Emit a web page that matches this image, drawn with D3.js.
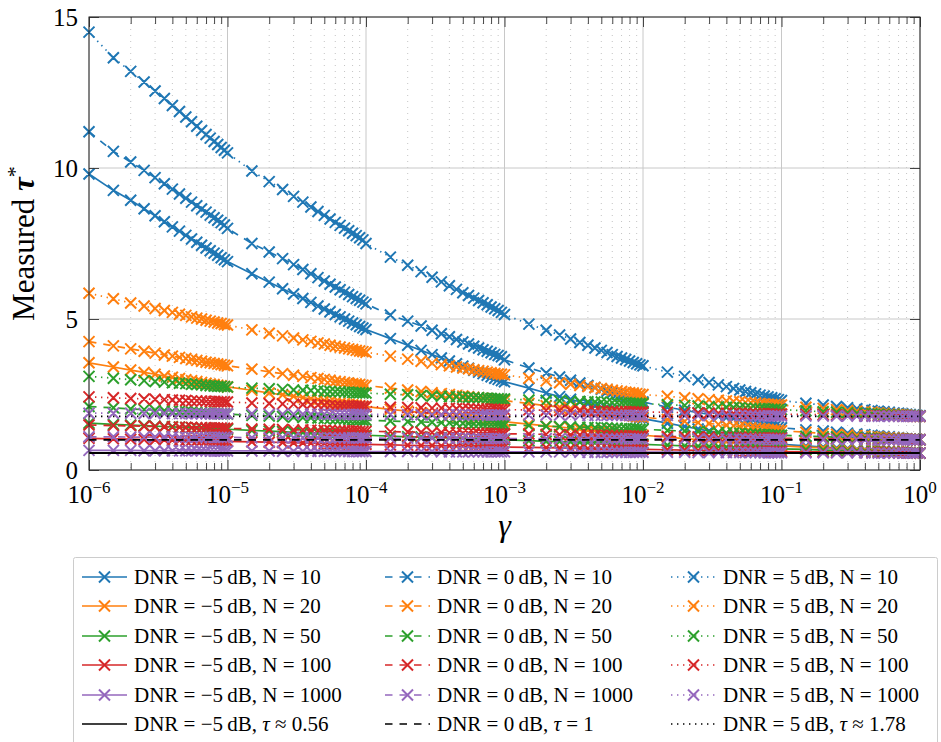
<!DOCTYPE html>
<html>
<head>
<meta charset="utf-8">
<script src="https://cdn.jsdelivr.net/npm/d3@7"></script>
<style>
  body { margin: 0; background: #fff; }
  svg text { font-family: "Liberation Serif", "Times New Roman", Tinos, Times, "DejaVu Serif", "Noto Serif", serif; fill: #000; }
</style>
</head>
<body>
<div id="chart"></div>
<script>
// gamma sample grid: mantissas inside each decade, then 10^0
const mantissas = [1, 1.5, 2, 2.5, 3, 3.5, 4, 4.5, 5, 5.5, 6, 6.5, 7, 7.5, 8, 8.5, 9, 9.5];
const exponents = [-6, -5, -4, -3, -2, -1];
const gamma = exponents.flatMap(e => mantissas.map(m => m * Math.pow(10, e))).concat([1]);

const dnrLevels = [-5, 0, 5];
const nLevels = [10, 20, 50, 100, 1000];
const tauRef = [0.5623, 1, 1.7783];
const tauText = ["≈ 0.56", "= 1", "≈ 1.78"];

// measured tau*, one row per decade
const n10_m5 = [
  9.8, 9.26, 8.93, 8.65, 8.42, 8.22, 8.05, 7.91, 7.77, 7.65, 7.54, 7.44, 7.35, 7.26, 7.18, 7.11, 7.03, 6.96,
  6.9, 6.5, 6.22, 6.0, 5.83, 5.68, 5.55, 5.43, 5.33, 5.24, 5.15, 5.07, 5.0, 4.93, 4.87, 4.81, 4.75, 4.7,
  4.65, 4.35, 4.13, 3.96, 3.82, 3.71, 3.61, 3.52, 3.44, 3.37, 3.3, 3.24, 3.19, 3.14, 3.09, 3.04, 3.0, 2.96,
  2.92, 2.71, 2.55, 2.43, 2.34, 2.26, 2.19, 2.12, 2.07, 2.02, 1.97, 1.93, 1.89, 1.85, 1.82, 1.79, 1.76, 1.73,
  1.7, 1.55, 1.44, 1.36, 1.29, 1.24, 1.19, 1.14, 1.11, 1.07, 1.04, 1.01, 0.98, 0.96, 0.93, 0.91, 0.89, 0.87,
  0.85, 0.8, 0.76, 0.73, 0.71, 0.69, 0.68, 0.66, 0.65, 0.64, 0.62, 0.61, 0.6, 0.6, 0.59, 0.58, 0.57, 0.57,
  0.56];
const n20_m5 = [
  3.55, 3.41, 3.31, 3.23, 3.17, 3.11, 3.07, 3.03, 2.99, 2.96, 2.93, 2.9, 2.87, 2.85, 2.83, 2.81, 2.79, 2.77,
  2.75, 2.64, 2.55, 2.49, 2.44, 2.4, 2.36, 2.33, 2.3, 2.27, 2.24, 2.22, 2.2, 2.18, 2.16, 2.15, 2.13, 2.11,
  2.1, 2.01, 1.95, 1.9, 1.86, 1.83, 1.8, 1.77, 1.75, 1.73, 1.71, 1.69, 1.68, 1.66, 1.65, 1.64, 1.62, 1.61,
  1.6, 1.52, 1.46, 1.42, 1.39, 1.36, 1.33, 1.31, 1.29, 1.27, 1.25, 1.23, 1.22, 1.21, 1.19, 1.18, 1.17, 1.16,
  1.15, 1.09, 1.04, 1.01, 0.98, 0.96, 0.94, 0.92, 0.91, 0.89, 0.88, 0.87, 0.85, 0.84, 0.83, 0.82, 0.82, 0.81,
  0.8, 0.76, 0.73, 0.7, 0.69, 0.67, 0.66, 0.64, 0.63, 0.62, 0.61, 0.6, 0.6, 0.59, 0.58, 0.58, 0.57, 0.57,
  0.56];
const n50_m5 = [
  1.55, 1.51, 1.49, 1.47, 1.45, 1.44, 1.43, 1.42, 1.41, 1.4, 1.39, 1.39, 1.38, 1.38, 1.37, 1.36, 1.36, 1.35,
  1.35, 1.31, 1.29, 1.27, 1.25, 1.24, 1.23, 1.22, 1.21, 1.2, 1.19, 1.19, 1.18, 1.18, 1.17, 1.16, 1.16, 1.15,
  1.15, 1.12, 1.1, 1.09, 1.08, 1.07, 1.06, 1.05, 1.05, 1.04, 1.03, 1.03, 1.02, 1.02, 1.01, 1.01, 1.01, 1.0,
  1.0, 0.97, 0.95, 0.94, 0.93, 0.92, 0.91, 0.9, 0.9, 0.89, 0.88, 0.88, 0.87, 0.87, 0.86, 0.86, 0.86, 0.85,
  0.85, 0.82, 0.8, 0.79, 0.78, 0.77, 0.76, 0.75, 0.75, 0.74, 0.73, 0.73, 0.72, 0.72, 0.71, 0.71, 0.71, 0.7,
  0.7, 0.68, 0.66, 0.65, 0.64, 0.63, 0.62, 0.61, 0.6, 0.6, 0.59, 0.59, 0.58, 0.58, 0.57, 0.57, 0.57, 0.56,
  0.56];
const n100_m5 = [
  1.05, 1.03, 1.02, 1.01, 1.0, 1.0, 0.99, 0.98, 0.98, 0.98, 0.97, 0.97, 0.97, 0.96, 0.96, 0.96, 0.95, 0.95,
  0.95, 0.93, 0.92, 0.91, 0.9, 0.9, 0.89, 0.88, 0.88, 0.88, 0.87, 0.87, 0.87, 0.86, 0.86, 0.86, 0.85, 0.85,
  0.85, 0.83, 0.82, 0.81, 0.81, 0.8, 0.8, 0.79, 0.79, 0.78, 0.78, 0.78, 0.77, 0.77, 0.77, 0.77, 0.76, 0.76,
  0.76, 0.75, 0.74, 0.73, 0.72, 0.72, 0.71, 0.71, 0.7, 0.7, 0.7, 0.69, 0.69, 0.69, 0.69, 0.69, 0.68, 0.68,
  0.68, 0.67, 0.66, 0.65, 0.65, 0.64, 0.64, 0.63, 0.63, 0.63, 0.63, 0.62, 0.62, 0.62, 0.62, 0.62, 0.61, 0.61,
  0.61, 0.6, 0.6, 0.59, 0.59, 0.59, 0.58, 0.58, 0.58, 0.58, 0.57, 0.57, 0.57, 0.57, 0.57, 0.56, 0.56, 0.56,
  0.56];
const n1000_m5 = [
  0.65, 0.65, 0.65, 0.64, 0.64, 0.64, 0.64, 0.64, 0.64, 0.64, 0.64, 0.64, 0.63, 0.63, 0.63, 0.63, 0.63, 0.63,
  0.63, 0.63, 0.63, 0.62, 0.62, 0.62, 0.62, 0.62, 0.62, 0.62, 0.62, 0.62, 0.61, 0.61, 0.61, 0.61, 0.61, 0.61,
  0.61, 0.61, 0.61, 0.61, 0.61, 0.6, 0.6, 0.6, 0.6, 0.6, 0.6, 0.6, 0.6, 0.6, 0.6, 0.6, 0.6, 0.6,
  0.6, 0.6, 0.6, 0.6, 0.6, 0.59, 0.59, 0.59, 0.59, 0.59, 0.59, 0.59, 0.59, 0.59, 0.59, 0.59, 0.59, 0.59,
  0.59, 0.59, 0.59, 0.58, 0.58, 0.58, 0.58, 0.58, 0.58, 0.58, 0.58, 0.58, 0.57, 0.57, 0.57, 0.57, 0.57, 0.57,
  0.57, 0.57, 0.57, 0.57, 0.57, 0.57, 0.57, 0.56, 0.56, 0.56, 0.56, 0.56, 0.56, 0.56, 0.56, 0.56, 0.56, 0.56,
  0.56];

const n10_0 = [
  11.2, 10.55, 10.2, 9.92, 9.68, 9.48, 9.3, 9.14, 9.0, 8.87, 8.75, 8.64, 8.54, 8.44, 8.35, 8.27, 8.19, 8.11,
  8.0, 7.5, 7.22, 7.0, 6.8, 6.64, 6.5, 6.37, 6.26, 6.15, 6.06, 5.97, 5.89, 5.81, 5.74, 5.68, 5.62, 5.56,
  5.5, 5.13, 4.93, 4.77, 4.63, 4.51, 4.41, 4.32, 4.24, 4.17, 4.1, 4.04, 3.98, 3.93, 3.88, 3.83, 3.79, 3.75,
  3.65, 3.38, 3.21, 3.08, 2.97, 2.88, 2.8, 2.73, 2.67, 2.61, 2.56, 2.51, 2.47, 2.43, 2.39, 2.35, 2.32, 2.28,
  2.25, 2.08, 1.98, 1.9, 1.84, 1.78, 1.74, 1.7, 1.66, 1.62, 1.59, 1.56, 1.53, 1.51, 1.49, 1.47, 1.45, 1.42,
  1.4, 1.33, 1.29, 1.25, 1.22, 1.19, 1.17, 1.15, 1.13, 1.11, 1.1, 1.08, 1.07, 1.05, 1.04, 1.03, 1.02, 1.01,
  1.0];
const n20_0 = [
  4.25, 4.11, 4.01, 3.93, 3.87, 3.81, 3.77, 3.73, 3.69, 3.66, 3.63, 3.6, 3.57, 3.55, 3.53, 3.51, 3.49, 3.47,
  3.45, 3.34, 3.25, 3.19, 3.14, 3.1, 3.06, 3.03, 3.0, 2.97, 2.94, 2.92, 2.9, 2.88, 2.86, 2.85, 2.83, 2.81,
  2.8, 2.71, 2.65, 2.6, 2.56, 2.53, 2.5, 2.47, 2.45, 2.43, 2.41, 2.39, 2.38, 2.36, 2.35, 2.34, 2.32, 2.31,
  2.3, 2.2, 2.13, 2.08, 2.04, 2.0, 1.97, 1.94, 1.92, 1.89, 1.87, 1.85, 1.84, 1.82, 1.8, 1.79, 1.77, 1.76,
  1.75, 1.67, 1.61, 1.57, 1.54, 1.51, 1.48, 1.46, 1.44, 1.42, 1.4, 1.38, 1.37, 1.36, 1.34, 1.33, 1.32, 1.31,
  1.3, 1.25, 1.21, 1.18, 1.16, 1.14, 1.12, 1.1, 1.09, 1.08, 1.07, 1.06, 1.05, 1.04, 1.03, 1.02, 1.01, 1.01,
  1.0];
const n50_0 = [
  2.1, 2.06, 2.02, 2.0, 1.98, 1.96, 1.95, 1.94, 1.93, 1.92, 1.91, 1.9, 1.89, 1.88, 1.87, 1.87, 1.86, 1.86,
  1.85, 1.81, 1.79, 1.77, 1.75, 1.74, 1.73, 1.72, 1.71, 1.7, 1.69, 1.69, 1.68, 1.68, 1.67, 1.66, 1.66, 1.65,
  1.65, 1.62, 1.6, 1.59, 1.58, 1.57, 1.56, 1.55, 1.55, 1.54, 1.53, 1.53, 1.52, 1.52, 1.51, 1.51, 1.51, 1.5,
  1.5, 1.47, 1.45, 1.44, 1.43, 1.42, 1.41, 1.4, 1.4, 1.39, 1.38, 1.38, 1.37, 1.37, 1.36, 1.36, 1.36, 1.35,
  1.35, 1.31, 1.29, 1.27, 1.25, 1.24, 1.23, 1.22, 1.21, 1.2, 1.19, 1.19, 1.18, 1.18, 1.17, 1.16, 1.16, 1.15,
  1.15, 1.12, 1.1, 1.09, 1.08, 1.07, 1.06, 1.05, 1.05, 1.04, 1.03, 1.03, 1.02, 1.02, 1.01, 1.01, 1.01, 1.0,
  1.0];
const n100_0 = [
  1.49, 1.47, 1.46, 1.45, 1.44, 1.43, 1.42, 1.42, 1.41, 1.41, 1.4, 1.4, 1.4, 1.39, 1.39, 1.39, 1.39, 1.38,
  1.38, 1.36, 1.35, 1.34, 1.33, 1.33, 1.32, 1.31, 1.31, 1.31, 1.3, 1.3, 1.3, 1.29, 1.29, 1.29, 1.28, 1.28,
  1.28, 1.27, 1.26, 1.25, 1.24, 1.24, 1.23, 1.23, 1.22, 1.22, 1.22, 1.21, 1.21, 1.21, 1.21, 1.21, 1.2, 1.2,
  1.2, 1.19, 1.18, 1.17, 1.16, 1.16, 1.15, 1.15, 1.14, 1.14, 1.14, 1.13, 1.13, 1.13, 1.13, 1.13, 1.12, 1.12,
  1.12, 1.11, 1.1, 1.09, 1.09, 1.08, 1.08, 1.07, 1.07, 1.07, 1.07, 1.06, 1.06, 1.06, 1.06, 1.06, 1.05, 1.05,
  1.05, 1.04, 1.04, 1.03, 1.03, 1.03, 1.02, 1.02, 1.02, 1.02, 1.01, 1.01, 1.01, 1.01, 1.01, 1.0, 1.0, 1.0,
  1.0];
const n1000_0 = [
  1.1, 1.1, 1.09, 1.09, 1.09, 1.09, 1.09, 1.08, 1.08, 1.08, 1.08, 1.08, 1.08, 1.08, 1.08, 1.08, 1.08, 1.08,
  1.08, 1.07, 1.07, 1.07, 1.07, 1.07, 1.07, 1.06, 1.06, 1.06, 1.06, 1.06, 1.06, 1.06, 1.06, 1.06, 1.06, 1.06,
  1.06, 1.05, 1.05, 1.05, 1.05, 1.05, 1.05, 1.05, 1.05, 1.04, 1.04, 1.04, 1.04, 1.04, 1.04, 1.04, 1.04, 1.04,
  1.04, 1.04, 1.04, 1.03, 1.03, 1.03, 1.03, 1.03, 1.03, 1.03, 1.03, 1.03, 1.03, 1.03, 1.03, 1.03, 1.03, 1.03,
  1.03, 1.03, 1.02, 1.02, 1.02, 1.02, 1.02, 1.02, 1.02, 1.02, 1.02, 1.02, 1.01, 1.01, 1.01, 1.01, 1.01, 1.01,
  1.01, 1.01, 1.01, 1.01, 1.01, 1.01, 1.0, 1.0, 1.0, 1.0, 1.0, 1.0, 1.0, 1.0, 1.0, 1.0, 1.0, 1.0,
  1.0];

const n10_p5 = [
  14.5, 13.65, 13.2, 12.85, 12.55, 12.3, 12.07, 11.87, 11.69, 11.53, 11.38, 11.24, 11.11, 10.99, 10.88, 10.78, 10.68, 10.59,
  10.5, 9.9, 9.55, 9.29, 9.06, 8.87, 8.71, 8.56, 8.43, 8.31, 8.2, 8.1, 8.01, 7.92, 7.84, 7.76, 7.69, 7.62,
  7.5, 7.05, 6.78, 6.57, 6.38, 6.23, 6.1, 5.98, 5.87, 5.78, 5.69, 5.61, 5.54, 5.47, 5.4, 5.34, 5.28, 5.22,
  5.15, 4.83, 4.63, 4.47, 4.34, 4.22, 4.13, 4.04, 3.96, 3.89, 3.82, 3.76, 3.71, 3.66, 3.61, 3.56, 3.52, 3.48,
  3.45, 3.24, 3.1, 2.99, 2.9, 2.82, 2.76, 2.7, 2.65, 2.6, 2.56, 2.52, 2.48, 2.45, 2.42, 2.39, 2.36, 2.33,
  2.3, 2.21, 2.15, 2.1, 2.06, 2.03, 2.0, 1.97, 1.95, 1.93, 1.91, 1.89, 1.88, 1.86, 1.85, 1.84, 1.82, 1.81,
  1.8];
const n20_p5 = [
  5.85, 5.67, 5.53, 5.43, 5.35, 5.28, 5.22, 5.16, 5.12, 5.07, 5.03, 5.0, 4.96, 4.93, 4.9, 4.87, 4.85, 4.82,
  4.8, 4.64, 4.53, 4.44, 4.37, 4.31, 4.26, 4.21, 4.17, 4.13, 4.1, 4.07, 4.04, 4.01, 3.99, 3.96, 3.94, 3.92,
  3.9, 3.77, 3.67, 3.6, 3.54, 3.49, 3.45, 3.41, 3.38, 3.35, 3.32, 3.29, 3.27, 3.24, 3.22, 3.2, 3.18, 3.17,
  3.15, 3.04, 2.95, 2.89, 2.84, 2.8, 2.76, 2.73, 2.7, 2.67, 2.64, 2.62, 2.6, 2.58, 2.56, 2.55, 2.53, 2.51,
  2.5, 2.44, 2.39, 2.36, 2.33, 2.31, 2.29, 2.27, 2.26, 2.24, 2.23, 2.22, 2.2, 2.19, 2.18, 2.17, 2.17, 2.16,
  2.15, 2.08, 2.04, 2.0, 1.97, 1.95, 1.93, 1.91, 1.89, 1.88, 1.86, 1.85, 1.84, 1.83, 1.82, 1.81, 1.8, 1.79,
  1.78];
const n50_p5 = [
  3.1, 3.04, 2.99, 2.96, 2.93, 2.91, 2.89, 2.87, 2.86, 2.84, 2.83, 2.82, 2.8, 2.79, 2.78, 2.77, 2.77, 2.76,
  2.75, 2.71, 2.69, 2.67, 2.65, 2.64, 2.63, 2.62, 2.61, 2.6, 2.59, 2.59, 2.58, 2.58, 2.57, 2.56, 2.56, 2.55,
  2.55, 2.51, 2.49, 2.47, 2.45, 2.44, 2.43, 2.42, 2.41, 2.4, 2.39, 2.39, 2.38, 2.38, 2.37, 2.36, 2.36, 2.35,
  2.35, 2.32, 2.3, 2.29, 2.28, 2.27, 2.26, 2.25, 2.25, 2.24, 2.23, 2.23, 2.22, 2.22, 2.21, 2.21, 2.21, 2.2,
  2.2, 2.16, 2.14, 2.12, 2.1, 2.09, 2.08, 2.07, 2.06, 2.05, 2.04, 2.04, 2.03, 2.03, 2.02, 2.01, 2.01, 2.0,
  2.0, 1.96, 1.93, 1.91, 1.9, 1.88, 1.87, 1.86, 1.85, 1.84, 1.83, 1.82, 1.81, 1.81, 1.8, 1.8, 1.79, 1.79,
  1.78];
const n100_p5 = [
  2.42, 2.39, 2.37, 2.35, 2.34, 2.33, 2.32, 2.31, 2.3, 2.29, 2.29, 2.28, 2.28, 2.27, 2.27, 2.26, 2.26, 2.26,
  2.25, 2.22, 2.2, 2.19, 2.18, 2.17, 2.16, 2.15, 2.15, 2.14, 2.13, 2.13, 2.12, 2.12, 2.11, 2.11, 2.11, 2.1,
  2.1, 2.08, 2.07, 2.06, 2.05, 2.05, 2.04, 2.03, 2.03, 2.03, 2.02, 2.02, 2.02, 2.01, 2.01, 2.01, 2.0, 2.0,
  2.0, 1.99, 1.98, 1.97, 1.96, 1.96, 1.95, 1.95, 1.94, 1.94, 1.94, 1.93, 1.93, 1.93, 1.93, 1.93, 1.92, 1.92,
  1.92, 1.91, 1.9, 1.89, 1.89, 1.88, 1.88, 1.87, 1.87, 1.87, 1.87, 1.86, 1.86, 1.86, 1.86, 1.86, 1.85, 1.85,
  1.85, 1.84, 1.83, 1.82, 1.82, 1.81, 1.81, 1.8, 1.8, 1.8, 1.8, 1.79, 1.79, 1.79, 1.79, 1.79, 1.78, 1.78,
  1.78];
const n1000_p5 = [
  1.88, 1.88, 1.88, 1.87, 1.87, 1.87, 1.87, 1.87, 1.87, 1.86, 1.86, 1.86, 1.86, 1.86, 1.86, 1.86, 1.86, 1.86,
  1.86, 1.86, 1.85, 1.85, 1.85, 1.85, 1.85, 1.85, 1.85, 1.84, 1.84, 1.84, 1.84, 1.84, 1.84, 1.84, 1.84, 1.84,
  1.84, 1.84, 1.83, 1.83, 1.83, 1.83, 1.83, 1.83, 1.83, 1.82, 1.82, 1.82, 1.82, 1.82, 1.82, 1.82, 1.82, 1.82,
  1.82, 1.82, 1.82, 1.82, 1.82, 1.81, 1.81, 1.81, 1.81, 1.81, 1.81, 1.81, 1.81, 1.81, 1.81, 1.81, 1.81, 1.81,
  1.81, 1.81, 1.8, 1.8, 1.8, 1.8, 1.8, 1.8, 1.8, 1.8, 1.8, 1.79, 1.79, 1.79, 1.79, 1.79, 1.79, 1.79,
  1.79, 1.79, 1.79, 1.79, 1.79, 1.79, 1.78, 1.78, 1.78, 1.78, 1.78, 1.78, 1.78, 1.78, 1.78, 1.78, 1.78, 1.78,
  1.78];

const valuesByDnr = [
  [n10_m5, n20_m5, n50_m5, n100_m5, n1000_m5],
  [n10_0, n20_0, n50_0, n100_0, n1000_0],
  [n10_p5, n20_p5, n50_p5, n100_p5, n1000_p5]
];

const colors = ["#1f77b4", "#ff7f0e", "#2ca02c", "#d62728", "#9467bd"];
const dashes = [null, "7.5,7", "1.4,4.6"];

const width = 941, height = 742;
const plot = {left: 89, right: 920, top: 17, bottom: 470};

const x = d3.scaleLog().domain([1e-6, 1]).range([plot.left, plot.right]);
const y = d3.scaleLinear().domain([0, 15]).range([plot.bottom, plot.top]);

const svg = d3.select("#chart").append("svg")
  .attr("width", width)
  .attr("height", height)
  .attr("viewBox", [0, 0, width, height]);

const majorX = exponents.map(e => Math.pow(10, e)).concat([1]);
const minorX = exponents.flatMap(e => d3.range(2, 10).map(m => m * Math.pow(10, e)));
const majorY = [0, 5, 10, 15];

// grid
svg.append("g")
  .selectAll("line")
  .data(minorX)
  .join("line")
  .attr("x1", d => x(d)).attr("x2", d => x(d))
  .attr("y1", plot.top).attr("y2", plot.bottom)
  .attr("stroke", "#b5b5b5")
  .attr("stroke-width", 0.8)
  .attr("stroke-dasharray", "1,5");

svg.append("g")
  .selectAll("line")
  .data(majorX)
  .join("line")
  .attr("x1", d => x(d)).attr("x2", d => x(d))
  .attr("y1", plot.top).attr("y2", plot.bottom)
  .attr("stroke", "#c8c8c8")
  .attr("stroke-width", 1);

svg.append("g")
  .selectAll("line")
  .data(majorY)
  .join("line")
  .attr("x1", plot.left).attr("x2", plot.right)
  .attr("y1", d => y(d)).attr("y2", d => y(d))
  .attr("stroke", "#c8c8c8")
  .attr("stroke-width", 1);

// series
const line = d3.line().x(d => x(d[0])).y(d => y(d[1]));
const cross = (cx, cy, r) => `M${cx - r},${cy - r}L${cx + r},${cy + r}M${cx - r},${cy + r}L${cx + r},${cy - r}`;

const marks = svg.append("g");
dnrLevels.forEach((dnr, di) => {
  valuesByDnr[di].forEach((vals, ni) => {
    const pts = gamma.map((g, i) => [g, vals[i]]).filter(d => d[1] != null);
    const g = marks.append("g");
    g.append("path")
      .attr("d", line(pts))
      .attr("fill", "none")
      .attr("stroke", colors[ni])
      .attr("stroke-width", 1.7)
      .attr("stroke-dasharray", dashes[di]);
    g.append("path")
      .attr("d", pts.map(d => cross(x(d[0]), y(d[1]), 5.5)).join(""))
      .attr("fill", "none")
      .attr("stroke", colors[ni])
      .attr("stroke-width", 2);
  });
  marks.append("path")
    .attr("d", line([[gamma[0], tauRef[di]], [gamma[gamma.length - 1], tauRef[di]]]))
    .attr("fill", "none")
    .attr("stroke", "#000")
    .attr("stroke-width", 1.8)
    .attr("stroke-dasharray", dashes[di]);
});

// axes, ticks pointing inside on all four sides
const tickStyle = g => {
  g.select(".domain").remove();
  g.selectAll(".tick line").attr("stroke", "#333").attr("stroke-width", 0.9);
};
svg.append("g").attr("transform", `translate(0,${plot.bottom})`)
  .call(d3.axisBottom(x).tickValues(minorX).tickSize(-7).tickFormat("")).call(tickStyle);
svg.append("g").attr("transform", `translate(0,${plot.top})`)
  .call(d3.axisTop(x).tickValues(minorX).tickSize(-7).tickFormat("")).call(tickStyle);
svg.append("g").attr("transform", `translate(0,${plot.bottom})`)
  .call(d3.axisBottom(x).tickValues(majorX).tickSize(-10).tickFormat("")).call(tickStyle);
svg.append("g").attr("transform", `translate(0,${plot.top})`)
  .call(d3.axisTop(x).tickValues(majorX).tickSize(-10).tickFormat("")).call(tickStyle);
svg.append("g").attr("transform", `translate(${plot.left},0)`)
  .call(d3.axisLeft(y).tickValues(majorY).tickSize(-10).tickFormat("")).call(tickStyle);
svg.append("g").attr("transform", `translate(${plot.right},0)`)
  .call(d3.axisRight(y).tickValues(majorY).tickSize(-10).tickFormat("")).call(tickStyle);

svg.append("rect")
  .attr("x", plot.left).attr("y", plot.top)
  .attr("width", plot.right - plot.left).attr("height", plot.bottom - plot.top)
  .attr("fill", "none").attr("stroke", "#222").attr("stroke-width", 1);

// tick labels
const xLab = svg.append("g").selectAll("text")
  .data(majorX)
  .join("text")
  .attr("x", d => x(d))
  .attr("y", 503)
  .attr("text-anchor", "middle")
  .attr("font-size", 25);
xLab.append("tspan").text("10");
xLab.append("tspan")
  .attr("dy", -10)
  .attr("font-size", 17)
  .text(d => { const e = Math.round(Math.log10(d)); return e < 0 ? "\u2212" + (-e) : String(e); });

svg.append("g").selectAll("text")
  .data(majorY)
  .join("text")
  .attr("x", 78)
  .attr("y", d => y(d))
  .attr("dy", "0.34em")
  .attr("text-anchor", "end")
  .attr("font-size", 25)
  .text(d => d);

// axis titles
svg.append("text")
  .attr("x", (plot.left + plot.right) / 2)
  .attr("y", 536)
  .attr("text-anchor", "middle")
  .attr("font-size", 32)
  .attr("font-style", "italic")
  .text("γ");

const yTitle = svg.append("text")
  .attr("transform", `translate(34,${(plot.top + plot.bottom) / 2}) rotate(-90)`)
  .attr("text-anchor", "middle")
  .attr("font-size", 31);
yTitle.append("tspan").text("Measured ");
yTitle.append("tspan").attr("font-style", "italic").attr("font-weight", "bold").text("τ");
yTitle.append("tspan").attr("dy", -12).attr("font-size", 22).text("*");

// legend
const legend = svg.append("g");
legend.append("rect")
  .attr("x", 73.5).attr("y", 557.5)
  .attr("width", 864).attr("height", 190)
  .attr("rx", 2)
  .attr("fill", "#fff")
  .attr("stroke", "#cccccc")
  .attr("stroke-width", 1);

const colX = [82, 385, 671];
const rowY = [577, 606, 636, 665, 695, 724];
const handleLen = 45;

dnrLevels.forEach((dnr, di) => {
  const dnrText = "DNR = " + (dnr < 0 ? "\u2212" + (-dnr) : dnr) + "\u2009dB, ";
  const rows = nLevels.map((n, ni) => ({color: colors[ni], marker: true, n}))
    .concat([{color: "#000", marker: false}]);
  rows.forEach((r, ri) => {
    const x0 = colX[di], cy = rowY[ri];
    legend.append("line")
      .attr("x1", x0).attr("x2", x0 + handleLen)
      .attr("y1", cy).attr("y2", cy)
      .attr("stroke", r.color)
      .attr("stroke-width", 1.7)
      .attr("stroke-dasharray", dashes[di]);
    if (r.marker) {
      legend.append("path")
        .attr("d", cross(x0 + handleLen / 2, cy, 5.5))
        .attr("fill", "none")
        .attr("stroke", r.color)
        .attr("stroke-width", 2);
    }
    const t = legend.append("text")
      .attr("x", x0 + 52)
      .attr("y", cy + 7)
      .attr("font-size", 21);
    t.append("tspan").text(dnrText);
    if (r.marker) {
      t.append("tspan").text("N = " + r.n);
    } else {
      t.append("tspan").attr("font-style", "italic").text("τ");
      t.append("tspan").text(" " + tauText[di]);
    }
  });
});
</script>
</body>
</html>
